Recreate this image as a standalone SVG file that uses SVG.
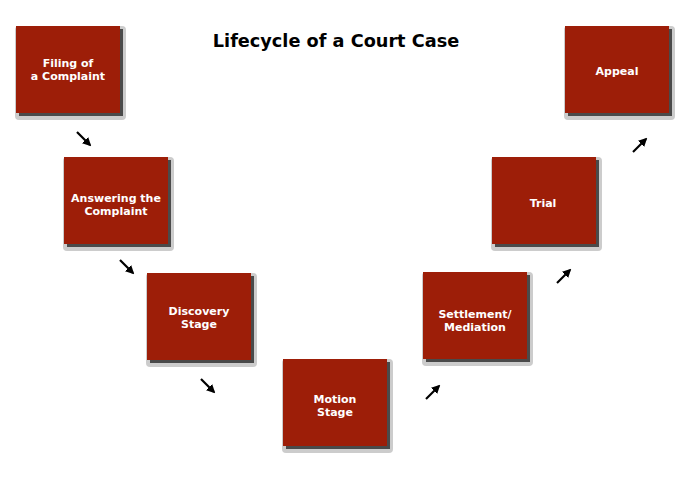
<svg xmlns="http://www.w3.org/2000/svg" width="691" height="500" viewBox="0 0 691 500">
<defs>
<style>
.halo{fill:#cccccc}
.shadow{fill:#4a4a4a}
.box{fill:#9d1e08}
.lbl{font-family:"DejaVu Sans",Verdana,sans-serif;font-weight:bold;font-size:11px;fill:#ffffff;text-anchor:middle}
.title{font-family:"DejaVu Sans",Verdana,sans-serif;font-weight:bold;font-size:17.7px;fill:#000000;text-anchor:middle}
.arr{stroke:#000;stroke-width:2.2;fill:none;marker-end:url(#ah)}
</style>
<marker id="ah" viewBox="0 0 10 10" refX="8" refY="5" markerWidth="4" markerHeight="4" orient="auto" markerUnits="strokeWidth">
<path d="M0,0 L10,5 L0,10 z" fill="#000"/>
</marker>
</defs>
<rect width="691" height="500" fill="#ffffff"/>
<text class="title" x="336" y="47">Lifecycle of a Court Case</text>
<g id="node-filing">
<rect class="halo" x="15" y="26" width="111" height="94" rx="4"/>
<rect class="shadow" x="19" y="29" width="104" height="87"/>
<rect class="box" x="16" y="26" width="104" height="87"/>
<text class="lbl" x="68" y="67">Filing of</text>
<text class="lbl" x="68" y="80">a Complaint</text>
</g>
<g id="node-answering">
<rect class="halo" x="63" y="157" width="111" height="94" rx="4"/>
<rect class="shadow" x="67" y="160" width="104" height="87"/>
<rect class="box" x="64" y="157" width="104" height="87"/>
<text class="lbl" x="116" y="202">Answering the</text>
<text class="lbl" x="116" y="215">Complaint</text>
</g>
<g id="node-discovery">
<rect class="halo" x="146" y="273" width="111" height="94" rx="4"/>
<rect class="shadow" x="150" y="276" width="104" height="87"/>
<rect class="box" x="147" y="273" width="104" height="87"/>
<text class="lbl" x="199" y="315">Discovery</text>
<text class="lbl" x="199" y="328">Stage</text>
</g>
<g id="node-motion">
<rect class="halo" x="282" y="359" width="111" height="94" rx="4"/>
<rect class="shadow" x="286" y="362" width="104" height="87"/>
<rect class="box" x="283" y="359" width="104" height="87"/>
<text class="lbl" x="335" y="403">Motion</text>
<text class="lbl" x="335" y="416">Stage</text>
</g>
<g id="node-settlement">
<rect class="halo" x="422" y="272" width="111" height="94" rx="4"/>
<rect class="shadow" x="426" y="275" width="104" height="87"/>
<rect class="box" x="423" y="272" width="104" height="87"/>
<text class="lbl" x="475" y="318">Settlement/</text>
<text class="lbl" x="475" y="331">Mediation</text>
</g>
<g id="node-trial">
<rect class="halo" x="491" y="157" width="111" height="94" rx="4"/>
<rect class="shadow" x="495" y="160" width="104" height="87"/>
<rect class="box" x="492" y="157" width="104" height="87"/>
<text class="lbl" x="543" y="207">Trial</text>
</g>
<g id="node-appeal">
<rect class="halo" x="564" y="26" width="111" height="94" rx="4"/>
<rect class="shadow" x="568" y="29" width="104" height="87"/>
<rect class="box" x="565" y="26" width="104" height="87"/>
<text class="lbl" x="617" y="75">Appeal</text>
</g>
<g id="connectors">
<line class="arr" x1="77" y1="132" x2="90" y2="145"/>
<line class="arr" x1="120" y1="260" x2="133" y2="273"/>
<line class="arr" x1="201" y1="379" x2="214" y2="392"/>
<line class="arr" x1="426" y1="399" x2="439" y2="386"/>
<line class="arr" x1="557" y1="283" x2="570" y2="270"/>
<line class="arr" x1="633" y1="152" x2="646" y2="139"/>
</g>
</svg>
